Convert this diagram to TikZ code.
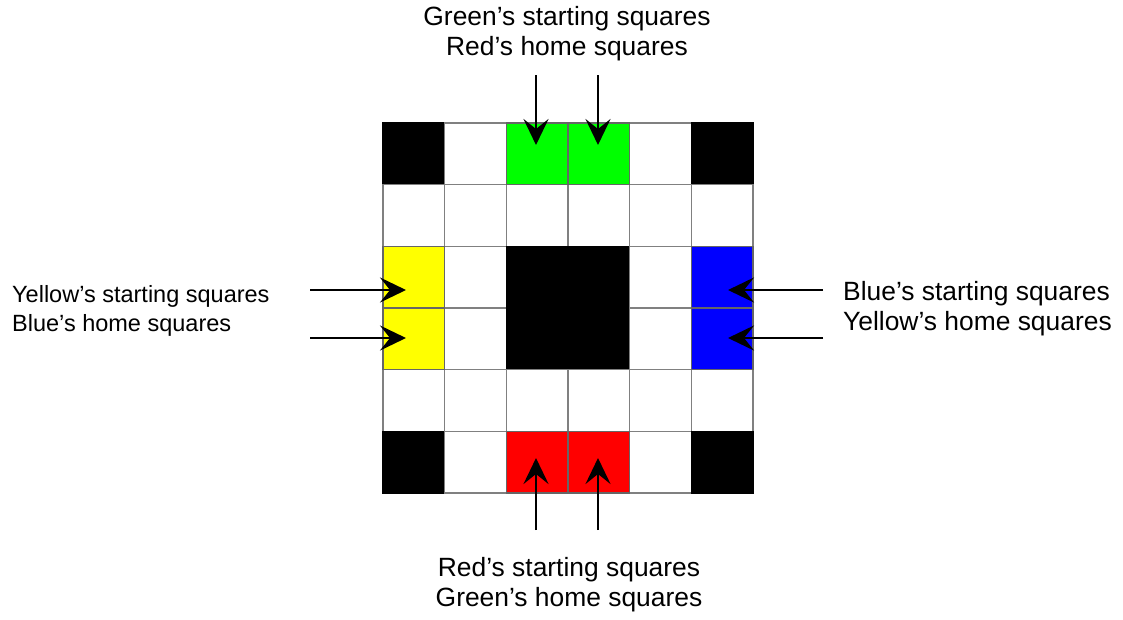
\documentclass[tikz,border=0pt]{standalone}
\usepackage{fontspec}
\setmainfont{Liberation Sans}
\usetikzlibrary{arrows.meta}
\begin{document}
\begin{tikzpicture}[x=1pt,y=-1pt,
  cell/.style={draw=gray, line width=1.2pt, minimum size=61.67pt, inner sep=0pt, outer sep=0pt, anchor=north west},
  ck/.style={fill=black, draw=black},
  cw/.style={fill=white},
  cg/.style={fill={rgb,255:red,0;green,255;blue,0}, draw=black!60},
  cy/.style={fill={rgb,255:red,255;green,255;blue,0}, draw=black!60},
  cb/.style={fill={rgb,255:red,0;green,0;blue,255}, draw=black!60},
  cr/.style={fill={rgb,255:red,255;green,0;blue,0}, draw=black!60},
  arr/.style={line width=2.8pt, -{Stealth[length=26pt, width=25pt, inset=10pt]}},
  bigtxt/.style={font=\fontsize{26.4}{29.7}\selectfont, inner sep=0pt},
  lefttxt/.style={font=\fontsize{23.5}{28.7}\selectfont, inner sep=0pt, align=left, anchor=west}
]
\useasboundingbox (0,0) rectangle (1123,619);
\foreach \row [count=\r from 0] in {{ck,cw,cg,cg,cw,ck},{cw,cw,cw,cw,cw,cw},{cy,cw,ck,ck,cw,cb},{cy,cw,ck,ck,cw,cb},{cw,cw,cw,cw,cw,cw},{ck,cw,cr,cr,cw,ck}}{
  \foreach \col [count=\c from 0] in \row {
    \node[cell, \col] (s\r\c) at ({383+61.67*\c}, {123+61.67*\r}) {};
  }
}
% re-stroke coloured borders on top
\foreach \n in {s02,s03,s20,s30,s25,s35,s52,s53}{
  \draw[black!60, line width=1.2pt] (\n.north west) rectangle (\n.south east);
}
% labels
\node[bigtxt, align=center] (top) at (567,33.6) {Green’s starting squares\\Red’s home squares};
\node[bigtxt, align=center] (bot) at (569,585) {Red’s starting squares\\Green’s home squares};
\node[lefttxt] (lft) at (12,311.2) {Yellow’s starting squares\\Blue’s home squares};
\node[bigtxt, align=left, anchor=west] (rgt) at (843,309) {Blue’s starting squares\\Yellow’s home squares};
% arrow ends
\coordinate (t1) at (536,75);  \coordinate (t1e) at (536,145);
\coordinate (t2) at (598,75);  \coordinate (t2e) at (598,145);
\coordinate (b1) at (536,530); \coordinate (b1e) at (536,458);
\coordinate (b2) at (598,530); \coordinate (b2e) at (598,458);
\coordinate (l1) at (310,290); \coordinate (l1e) at (406,290);
\coordinate (l2) at (310,338); \coordinate (l2e) at (406,338);
\coordinate (r1) at (823,290); \coordinate (r1e) at (728,290);
\coordinate (r2) at (823,338); \coordinate (r2e) at (728,338);
\foreach \a in {t1,t2,b1,b2,l1,l2,r1,r2}{
  \draw[arr] (\a) -- (\a e);
}
\end{tikzpicture}
\end{document}
